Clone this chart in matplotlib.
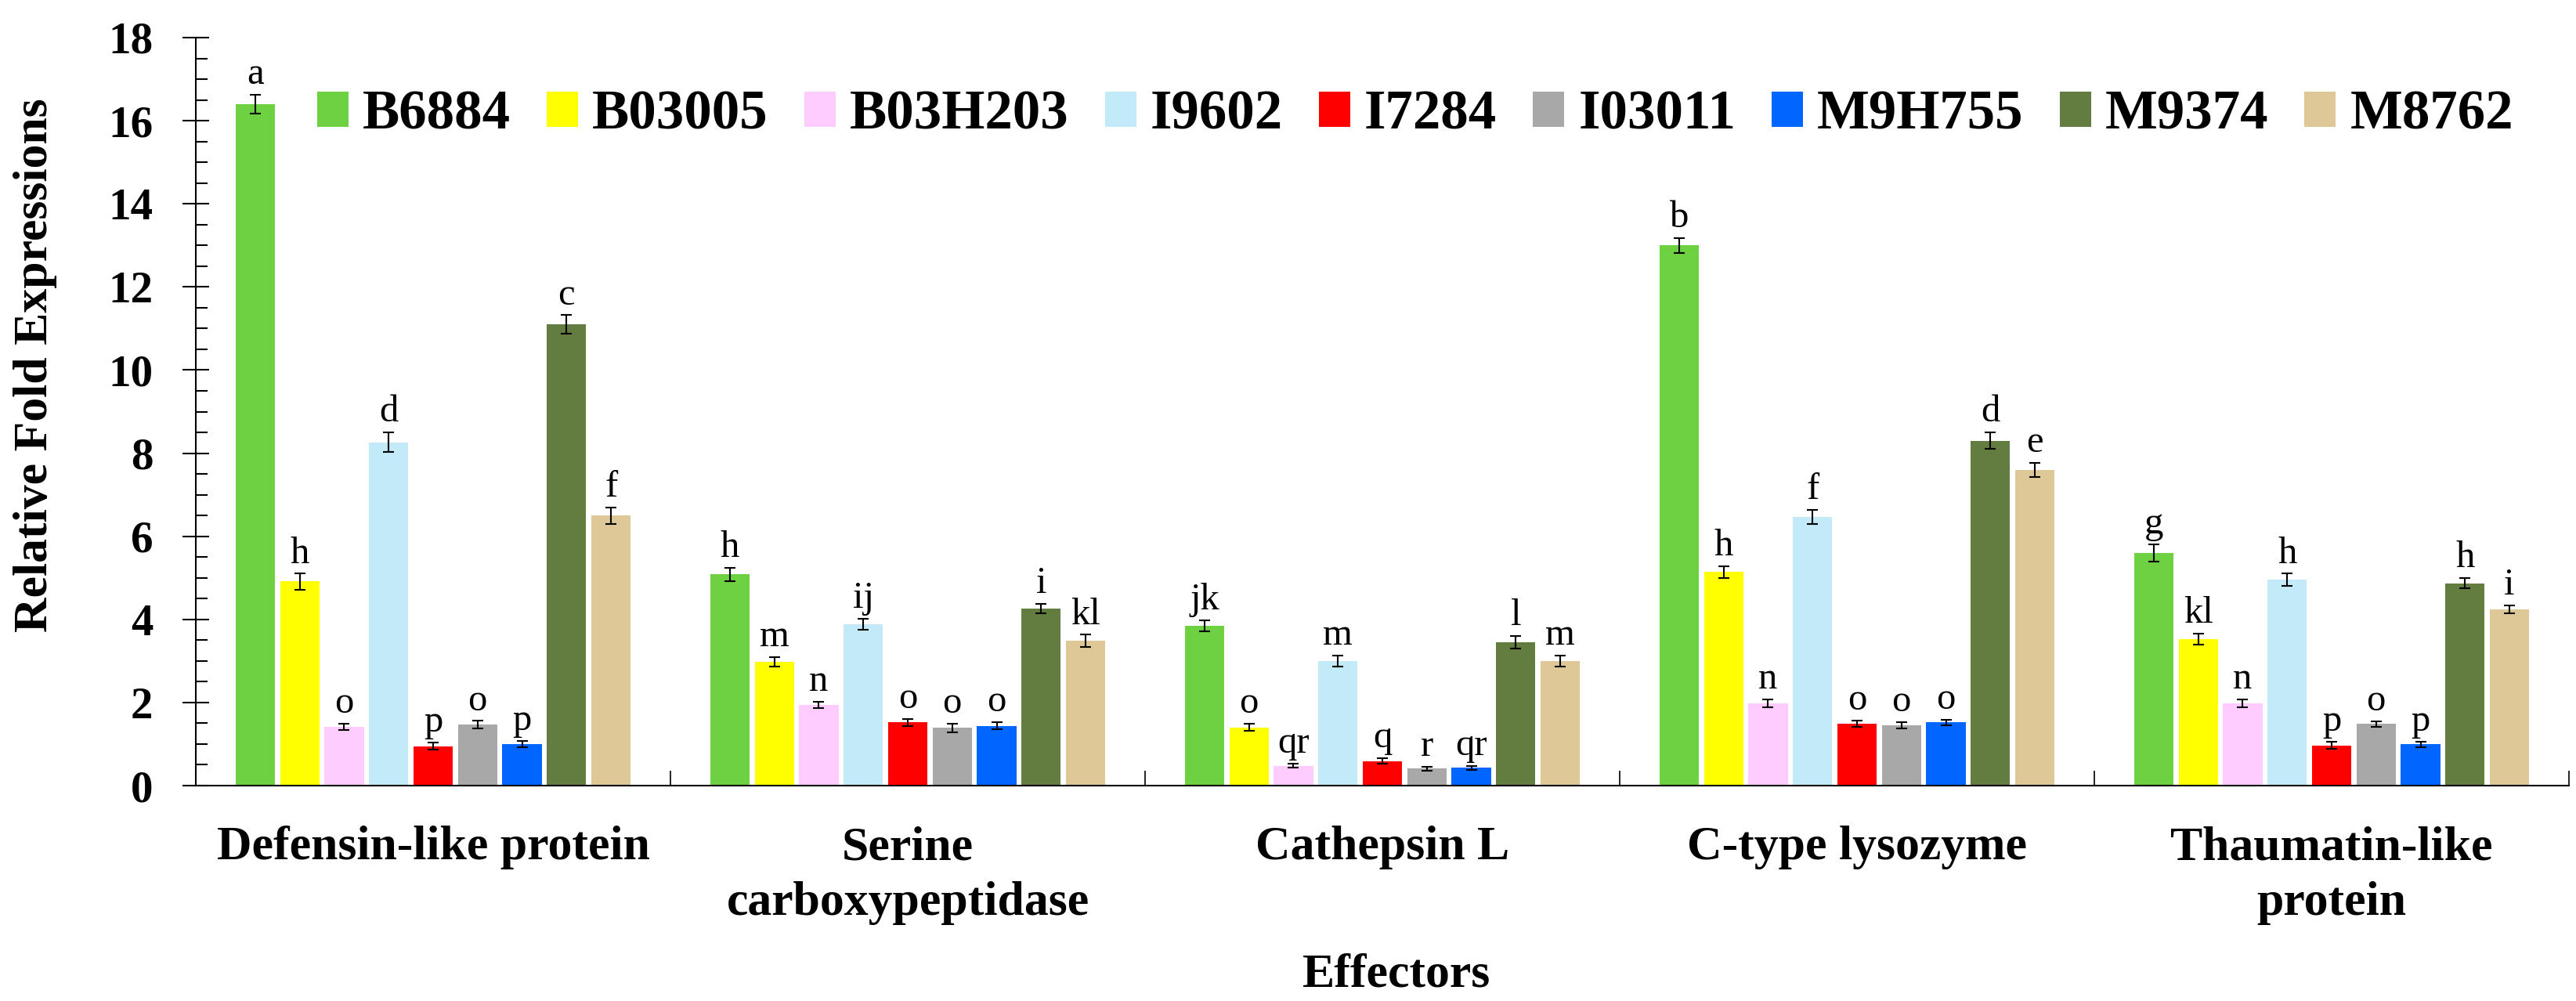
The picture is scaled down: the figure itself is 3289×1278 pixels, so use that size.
import matplotlib
matplotlib.use("Agg")
import matplotlib.pyplot as plt
import numpy as np
from matplotlib.ticker import MultipleLocator

plt.rcParams['font.family'] = 'Liberation Serif'

categories = ["Defensin-like protein", "Serine\ncarboxypeptidase", "Cathepsin L",
              "C-type lysozyme", "Thaumatin-like\nprotein"]
series = ["B6884", "B03005", "B03H203", "I9602", "I7284", "I03011", "M9H755", "M9374", "M8762"]
colors = ["#6ED141", "#FFFF00", "#FFCCFF", "#C2EAF9", "#FF0000", "#A8A8A8", "#0066FF", "#637C3F", "#DEC897"]

# values per series across the 5 categories
B6884 = [16.40, 5.08, 3.84, 13.00, 5.60]
B03005 = [4.91, 2.98, 1.40, 5.14, 3.52]
B03H203 = [1.41, 1.94, 0.48, 1.98, 1.98]
I9602 = [8.26, 3.89, 3.00, 6.47, 4.95]
I7284 = [0.95, 1.52, 0.59, 1.49, 0.97]
I03011 = [1.47, 1.39, 0.41, 1.45, 1.48]
M9H755 = [1.00, 1.44, 0.43, 1.52, 0.99]
M9374 = [11.10, 4.26, 3.45, 8.30, 4.87]
M8762 = [6.50, 3.48, 3.00, 7.60, 4.24]

B6884_err = [0.22, 0.16, 0.13, 0.18, 0.20]
B03005_err = [0.19, 0.12, 0.085, 0.14, 0.13]
B03H203_err = [0.08, 0.08, 0.05, 0.10, 0.09]
I9602_err = [0.24, 0.13, 0.13, 0.17, 0.15]
I7284_err = [0.085, 0.09, 0.065, 0.07, 0.08]
I03011_err = [0.085, 0.10, 0.05, 0.08, 0.07]
M9H755_err = [0.07, 0.09, 0.05, 0.07, 0.065]
M9374_err = [0.22, 0.12, 0.15, 0.20, 0.12]
M8762_err = [0.20, 0.15, 0.13, 0.17, 0.10]

B6884_lbl = ["a", "h", "jk", "b", "g"]
B03005_lbl = ["h", "m", "o", "h", "kl"]
B03H203_lbl = ["o", "n", "qr", "n", "n"]
I9602_lbl = ["d", "ij", "m", "f", "h"]
I7284_lbl = ["p", "o", "q", "o", "p"]
I03011_lbl = ["o", "o", "r", "o", "o"]
M9H755_lbl = ["p", "o", "qr", "o", "p"]
M9374_lbl = ["c", "i", "l", "d", "h"]
M8762_lbl = ["f", "kl", "m", "e", "i"]

values = [B6884, B03005, B03H203, I9602, I7284, I03011, M9H755, M9374, M8762]
errors = [B6884_err, B03005_err, B03H203_err, I9602_err, I7284_err, I03011_err,
          M9H755_err, M9374_err, M8762_err]
labels = [B6884_lbl, B03005_lbl, B03H203_lbl, I9602_lbl, I7284_lbl, I03011_lbl,
          M9H755_lbl, M9374_lbl, M8762_lbl]

W, H = 3289, 1278
dpi = 100
fig = plt.figure(figsize=(W / dpi, H / dpi), dpi=dpi)
ax = fig.add_axes([250 / W, 1 - 1003 / H, (3280 - 250) / W, (1003 - 48) / H])

x = np.arange(len(categories))
slot = 0.0937
bw = 0.083
n = len(series)
for j in range(n):
    xs = x + (j - (n - 1) / 2) * slot
    ax.bar(xs, values[j], width=bw, color=colors[j], label=series[j], zorder=2)
    ax.errorbar(xs, values[j], yerr=errors[j], fmt='none', ecolor='black',
                elinewidth=1.5, capsize=5, capthick=1.5, zorder=3)
    for xi, v, e, t in zip(xs, values[j], errors[j], labels[j]):
        ax.annotate(t, (xi, v + e), xytext=(0, 10), textcoords='offset points',
                    ha='center', va='baseline', fontsize=35, zorder=4)

ax.set_xlim(-0.5, len(categories) - 0.5)
ax.set_ylim(0, 18)
ax.yaxis.set_major_locator(MultipleLocator(2))
ax.yaxis.set_minor_locator(MultipleLocator(0.5))
ax.tick_params(axis='y', which='major', direction='inout', length=24.5, width=1.5,
               labelsize=41, pad=27)
ax.tick_params(axis='y', which='minor', direction='in', length=11, width=1.5)
for lab in ax.get_yticklabels():
    lab.set_fontweight('bold')

ax.set_xticks(np.arange(-0.5, len(categories), 1.0))
ax.set_xticklabels([])
ax.set_xticks(x, minor=True)
ax.set_xticklabels(categories, minor=True, fontsize=44.5, fontweight='bold',
                   linespacing=1.33)
ax.tick_params(axis='x', which='major', direction='in', length=13.7, width=1.2)
ax.tick_params(axis='x', which='minor', length=0, pad=37)

for s in ['top', 'right']:
    ax.spines[s].set_visible(False)
for s in ['left', 'bottom']:
    ax.spines[s].set_linewidth(1.5)

fig.text(45 / W, 1 - 466 / H, "Relative Fold Expressions", rotation=90,
         ha='center', va='center', fontsize=44.5, fontweight='bold')
fig.text(1783 / W, 1 - 1244 / H, "Effectors", ha='center', va='center',
         fontsize=44.5, fontweight='bold')

fig.legend(loc='center left', bbox_to_anchor=(405 / W, 1 - 147 / H), ncol=9,
           frameon=False, prop={'weight': 'bold', 'size': 51},
           handlelength=0.565, handleheight=0.59, handletextpad=0.254,
           columnspacing=0.65, borderpad=0, borderaxespad=0)

fig.savefig("out.png", dpi=dpi)
